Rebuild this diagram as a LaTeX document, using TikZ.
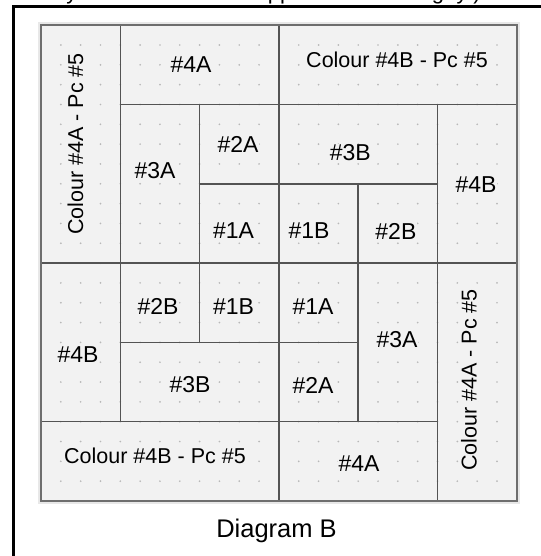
\documentclass[tikz,border=0pt]{standalone}
\usepackage{fontspec}
\setmainfont{Liberation Sans}
\definecolor{quiltbg}{HTML}{F2F2F2}
\definecolor{dotgray}{HTML}{B8B8B8}
\definecolor{seam}{HTML}{545454}
\definecolor{edge}{HTML}{6E6E6E}
\tikzset{
  pc/.style={fill=quiltbg,inner sep=0.6pt,font=\fontsize{23}{27}\selectfont},
  pcv/.style={pc,rotate=90,font=\fontsize{21.5}{25}\selectfont},
  pcs/.style={pc,font=\fontsize{21.5}{25}\selectfont},
  cut/.style={anchor=base,inner sep=0pt,font=\fontsize{22}{26}\selectfont},
  seamline/.style={seam,line width=1.5pt}
}
\begin{document}
\begin{tikzpicture}[x=19.825pt,y=19.825pt]
  \useasboundingbox (-2.068,-2.774) rectangle (25.17,25.27);
  % cut-off line above the frame
  \node[cut] (cut1) at (1.56,25.32) {y};
  \node[cut] (cut2) at (12.06,25.32) {pp};
  \node[cut] (cut3) at (20.03,25.32) {g};
  \node[cut] (cut4) at (21.24,25.32) {y};
  \node[cut] (cut5) at (21.99,25.32) {)};
  % frame
  \draw[line width=3pt] (-1.41,-3) -- (-1.41,24.92) -- (25.5,24.92);
  % quilt block, quarter-unit grid
  \draw[gray!18,line width=6pt] (0,0) rectangle (24,24);
  \fill[quiltbg] (0,0) rectangle (24,24);
  \foreach \i in {1,...,23}
    \foreach \j in {1,...,23}
      \fill[dotgray] (\i,\j) circle (0.95pt);
  % seams
  \draw[seamline] (4,4) -- (4,24);
  \draw[seamline] (8,8) -- (8,20);
  \draw[seamline] (12,0) -- (12,24);
  \draw[seamline] (16,4) -- (16,16);
  \draw[seamline] (20,0) -- (20,20);
  \draw[seamline] (4,20) -- (24,20);
  \draw[seamline] (8,16) -- (20,16);
  \draw[seamline] (0,12) -- (24,12);
  \draw[seamline] (4,8) -- (16,8);
  \draw[seamline] (0,4) -- (20,4);
  \draw[edge,line width=2.4pt] (0,0) rectangle (24,24);
  % pieces
  \node[pcv] (tlstrip) at (1.74,18.0) {Colour \#4A - Pc \#5};
  \node[pc] (tl4a) at (7.57,22.0) {\#4A};
  \node[pc] (tl3a) at (5.75,16.65) {\#3A};
  \node[pc] (tl2a) at (9.94,17.96) {\#2A};
  \node[pc] (tl1a) at (9.71,13.62) {\#1A};
  \node[pcs] (trstrip) at (17.96,22.25) {Colour \#4B - Pc \#5};
  \node[pc] (tr3b) at (15.6,17.55) {\#3B};
  \node[pc] (tr4b) at (21.94,15.94) {\#4B};
  \node[pc] (tr1b) at (13.52,13.62) {\#1B};
  \node[pc] (tr2b) at (17.9,13.62) {\#2B};
  \node[pc] (bl4b) at (1.87,7.36) {\#4B};
  \node[pc] (bl2b) at (5.9,9.79) {\#2B};
  \node[pc] (bl1b) at (9.71,9.79) {\#1B};
  \node[pc] (bl3b) at (7.52,5.85) {\#3B};
  \node[pcs] (blstrip) at (5.75,2.27) {Colour \#4B - Pc \#5};
  \node[pc] (br1a) at (13.72,9.79) {\#1A};
  \node[pc] (br2a) at (13.72,5.85) {\#2A};
  \node[pc] (br3a) at (17.96,8.12) {\#3A};
  \node[pc] (br4a) at (16.04,1.89) {\#4A};
  \node[pcv] (brstrip) at (21.59,6.1) {Colour \#4A - Pc \#5};
  % caption
  \node[anchor=base,inner sep=0pt,font=\fontsize{25.5}{30}\selectfont] (caption) at (11.88,-1.816) {Diagram B};
\end{tikzpicture}
\end{document}
